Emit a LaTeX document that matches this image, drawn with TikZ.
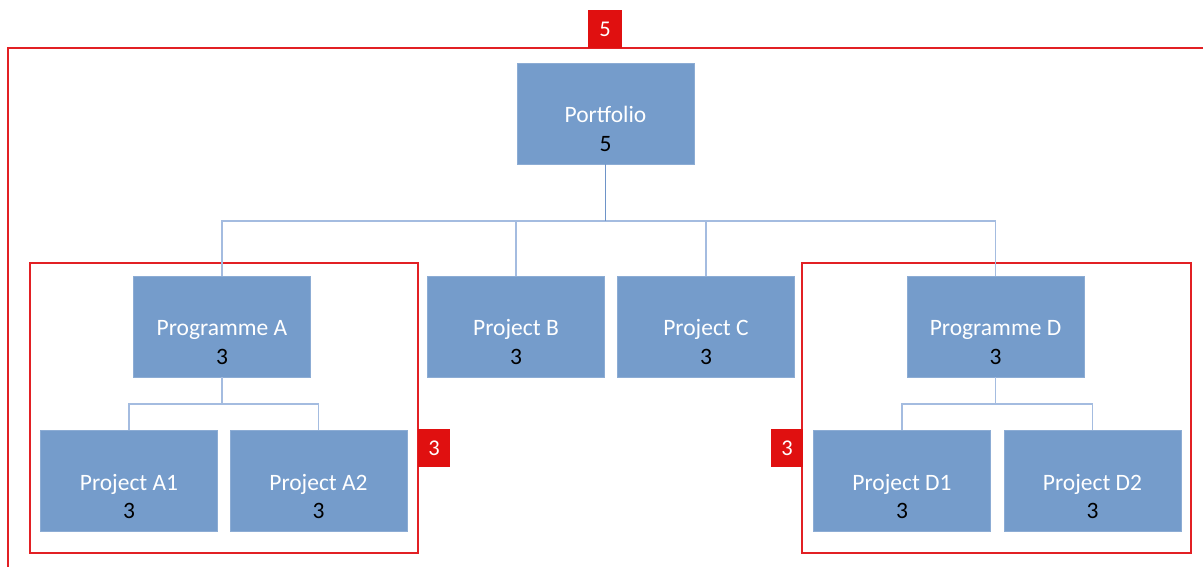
\documentclass[tikz,border=0pt]{standalone}
\usepackage{fontspec}
\setmainfont{Carlito}
\definecolor{boxblue}{RGB}{117,156,203}
\definecolor{boxedge}{RGB}{140,172,212}
\definecolor{linkblue}{RGB}{164,188,224}
\definecolor{trunkblue}{RGB}{110,148,200}
\definecolor{framered}{RGB}{226,32,36}
\definecolor{tagred}{RGB}{224,16,16}
\begin{document}
\begin{tikzpicture}[x=1pt,y=-1pt,
  unit/.style={rectangle, fill=boxblue, draw=boxedge, line width=0.6pt,
    minimum width=177pt, inner xsep=0pt, inner ysep=0pt,
    text height=88pt, text depth=13pt, align=center, text=white,
    font=\fontsize{23.5}{28.5}\selectfont},
  frame/.style={draw=framered, line width=1.3pt},
  tag/.style={rectangle, fill=tagred, text=white, inner sep=0pt,
    font=\fontsize{22.5}{26}\selectfont},
  link/.style={draw=linkblue, line width=1.1pt},
  trunk/.style={draw=trunkblue, line width=1.1pt}]
\useasboundingbox (0,0) rectangle (1203,566);
\begin{scope}
\clip (0,0) rectangle (1203,566);
% outer frame
\coordinate (otr) at (1215,48);
\coordinate (otl) at (8,48);
\coordinate (obl) at (8,580);
\draw[frame] (otr) -- (otl) -- (obl);
\end{scope}
% group frames
\draw[frame] (30,263) rectangle (418,553);
\draw[frame] (802,263) rectangle (1191,553);
% tags
\node[tag, minimum width=34pt, minimum height=38pt] (t5) at (605,29) {5};
\node[tag, minimum width=32pt, minimum height=38pt] (tA) at (434,448) {3};
\node[tag, minimum width=32pt, minimum height=38pt] (tD) at (787,448) {3};
% boxes
\node[unit] (pf) at (605.5,113.5) {Portfolio\\\textcolor{black}{5}};
\node[unit] (pa) at (222,326.5) {Programme A\\\textcolor{black}{3}};
\node[unit] (pb) at (516,326.5) {Project B\\\textcolor{black}{3}};
\node[unit] (pc) at (706,326.5) {Project C\\\textcolor{black}{3}};
\node[unit] (pd) at (995.5,326.5) {Programme D\\\textcolor{black}{3}};
\node[unit] (a1) at (129,481) {Project A1\\\textcolor{black}{3}};
\node[unit] (a2) at (318.5,481) {Project A2\\\textcolor{black}{3}};
\node[unit] (d1) at (902,481) {Project D1\\\textcolor{black}{3}};
\node[unit] (d2) at (1092.5,481) {Project D2\\\textcolor{black}{3}};
% connectors
\draw[link] (pa.north) |- (pf.south |- 0,221) -| (pd.north);
\draw[link] (pb.north) -- (pb.north |- 0,221);
\draw[link] (pc.north) -- (pc.north |- 0,221);
\draw[trunk] (pf.south) -- (pf.south |- 0,221);
\draw[link] (a1.north) |- (pa.south |- 0,404) -| (a2.north);
\draw[link] (pa.south) -- (pa.south |- 0,404);
\draw[link] (d1.north) |- (pd.south |- 0,404) -| (d2.north);
\draw[link] (pd.south) -- (pd.south |- 0,404);
\end{tikzpicture}
\end{document}
